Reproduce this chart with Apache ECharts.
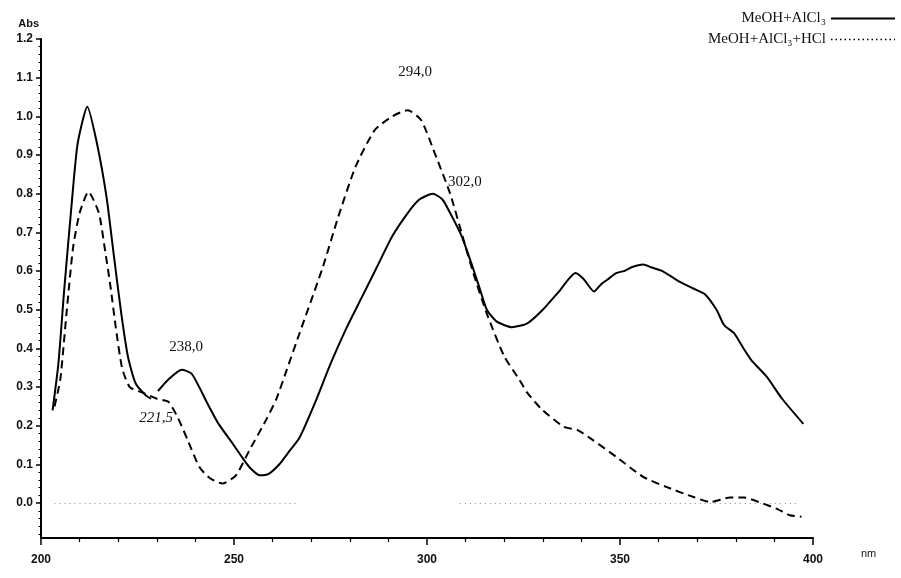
<!DOCTYPE html>
<html>
<head>
<meta charset="utf-8">
<script src="https://cdn.jsdelivr.net/npm/echarts@6/dist/echarts.min.js"></script>
<style>html,body{margin:0;padding:0;background:#fff}#c{width:901px;height:578px}</style>
</head>
<body>
<div id="c"></div>
<script>
// ---- data ----
const xTickLabels = [200, 250, 300, 350, 400];
const yTickValues = [0.0, 0.1, 0.2, 0.3, 0.4, 0.5, 0.6, 0.7, 0.8, 0.9, 1.0, 1.1, 1.2];
const yMinorValues = [-0.08,-0.06,-0.04,-0.02,0.02,0.04,0.06,0.08,0.12,0.14,0.16,0.18,0.22,0.24,0.26,0.28,0.32,0.34,0.36,0.38,0.42,0.44,0.46,0.48,0.52,0.54,0.56,0.58,0.62,0.64,0.66,0.68,0.72,0.74,0.76,0.78,0.82,0.84,0.86,0.88,0.92,0.94,0.96,0.98,1.02,1.04,1.06,1.08,1.12,1.14,1.16,1.18];

const seriesNames = ['MeOH+AlCl\u2083', 'MeOH+AlCl\u2083+HCl'];

const solidNm  = [203,204.5,206,208,209.5,212,214.5,217,219,220.8,222.5,224.5,227,228.5,null,230.3,233,236.5,239,241,243,246,249.6,252,254,256.7,259,261.7,264,267,271,275,279,283,287,291,295,298,301.5,304,306,309,311.5,313.5,315.5,318,322,326,330,334,338.5,340.5,343.3,345,347,349,351,353,356,358,361,365,369,372,375,377,379.5,382,384,388,392,397.5];
const solidAbs = [0.24,0.36,0.55,0.78,0.93,1.025,0.93,0.79,0.63,0.49,0.38,0.31,0.28,0.27,null,0.29,0.32,0.345,0.335,0.30,0.26,0.205,0.155,0.12,0.093,0.072,0.076,0.10,0.13,0.17,0.26,0.36,0.45,0.53,0.61,0.69,0.75,0.785,0.80,0.785,0.75,0.69,0.62,0.56,0.50,0.47,0.455,0.465,0.50,0.545,0.595,0.58,0.547,0.565,0.58,0.595,0.60,0.61,0.617,0.61,0.60,0.575,0.555,0.54,0.50,0.46,0.44,0.40,0.37,0.327,0.27,0.205];

const dashNm  = [203.5,205,206.6,208.3,210,212.3,215,216.5,218,219.3,221,223,226.5,230,233,235.5,238,241,243.7,247,250.5,254,258.3,261,263.5,267,273,277,281.5,286.5,291,295,298.5,302,306,309.5,312,315.5,320,324,326,330,335.5,339,343,349,356,362,369,373.5,378.5,382,386,390.5,394,397];
const dashAbs = [0.25,0.32,0.49,0.66,0.75,0.805,0.75,0.66,0.56,0.46,0.35,0.30,0.285,0.27,0.262,0.22,0.163,0.094,0.065,0.051,0.072,0.137,0.215,0.27,0.34,0.44,0.61,0.74,0.87,0.965,1.0,1.016,0.99,0.905,0.80,0.68,0.595,0.49,0.38,0.318,0.285,0.24,0.197,0.189,0.163,0.12,0.068,0.042,0.016,0.003,0.015,0.015,0.003,-0.014,-0.031,-0.035];

const baselineSegments = [[203.5, 267], [308.5, 396.5]];

const peakLabels = [
  {text: '294,0', nm: 296.9, abs: 1.115, italic: false},
  {text: '302,0', nm: 309.8, abs: 0.83, italic: false},
  {text: '238,0', nm: 237.6, abs: 0.403, italic: false},
  {text: '221,5', nm: 229.8, abs: 0.22, italic: true}
];

// ---- build ----
const zip = (xs, ys) => xs.map((x, i) => (x === null ? [null, null] : [x, ys[i]]));
const serif = '"Liberation Serif", "Times New Roman", serif';
const sans = '"Liberation Sans", Arial, sans-serif';
const hiddenSymbol = {color: 'rgba(0,0,0,0)', borderWidth: 0, opacity: 0};

const chart = echarts.init(document.getElementById('c'), null, {renderer: 'canvas'});
chart.setOption({
  animation: false,
  backgroundColor: '#fff',
  grid: {left: 41, right: 88, top: 39, bottom: 40, containLabel: false},
  legend: {
    orient: 'vertical', right: 0, top: 6, align: 'right',
    itemWidth: 64, itemHeight: 12, itemGap: 6,
    textStyle: {fontFamily: serif, fontSize: 15, color: '#111'},
    data: [
      {name: seriesNames[0], itemStyle: hiddenSymbol, lineStyle: {color: '#000', width: 2, type: 'solid'}},
      {name: seriesNames[1], itemStyle: hiddenSymbol, lineStyle: {color: '#000', width: 1.5, type: [1.5, 3]}}
    ]
  },
  xAxis: {
    type: 'value', min: 200, max: 400, interval: 50,
    name: 'nm', nameLocation: 'end', nameGap: 48,
    nameTextStyle: {fontFamily: sans, fontSize: 11, color: '#111', verticalAlign: 'top', padding: [10, 0, 0, 0]},
    axisLine: {show: true, onZero: false, lineStyle: {color: '#000', width: 2}},
    axisTick: {show: true, length: 7, lineStyle: {color: '#000', width: 1.5}},
    minorTick: {show: true, splitNumber: 5, length: 4, lineStyle: {color: '#000', width: 1.2}},
    axisLabel: {
      customValues: xTickLabels, margin: 16, fontFamily: sans, fontWeight: 'bold', fontSize: 12, color: '#111'
    },
    splitLine: {show: false}, minorSplitLine: {show: false}
  },
  yAxis: [{
    type: 'value', min: -0.09, max: 1.2,
    name: 'Abs', nameLocation: 'end', nameGap: 10,
    nameTextStyle: {fontFamily: sans, fontWeight: 'bold', fontSize: 11, color: '#111', align: 'right', padding: [0, 2, 0, 0]},
    axisLine: {show: true, onZero: false, lineStyle: {color: '#000', width: 2}},
    axisTick: {show: true, customValues: yTickValues, length: 5, lineStyle: {color: '#000', width: 1.5}},
    axisLabel: {
      customValues: yTickValues, margin: 8, fontFamily: sans, fontWeight: 'bold', fontSize: 12, color: '#111',
      formatter: v => v.toFixed(1)
    },
    splitLine: {show: false}
  }, {
    type: 'value', min: -0.09, max: 1.2, position: 'left',
    axisLine: {show: false},
    axisTick: {show: true, customValues: yMinorValues, length: 2.5, lineStyle: {color: '#000', width: 1}},
    axisLabel: {show: false},
    splitLine: {show: false}
  }],
  series: [
    {
      name: seriesNames[0], type: 'line', data: zip(solidNm, solidAbs),
      symbol: 'none', showSymbol: false, smooth: 0.2, connectNulls: false,
      lineStyle: {color: '#000', width: 2}, itemStyle: {color: '#000'},
      markPoint: {
        symbol: 'circle', symbolSize: 0, silent: true,
        label: {show: true, position: 'inside', fontFamily: serif, fontSize: 15, color: '#111',
          formatter: p => p.name},
        data: peakLabels.map(p => ({
          name: p.text, coord: [p.nm, p.abs],
          label: {fontStyle: p.italic ? 'italic' : 'normal'}
        }))
      },
      markLine: {
        symbol: 'none', silent: true, label: {show: false},
        lineStyle: {color: '#888', width: 1, type: [1, 4]},
        data: baselineSegments.map(s => [{coord: [s[0], 0]}, {coord: [s[1], 0]}])
      },
      z: 3
    },
    {
      name: seriesNames[1], type: 'line', data: zip(dashNm, dashAbs),
      symbol: 'none', showSymbol: false, smooth: 0.2,
      lineStyle: {color: '#000', width: 2, type: [8, 5]}, itemStyle: {color: '#000'},
      z: 2
    }
  ]
});
</script>
</body>
</html>
